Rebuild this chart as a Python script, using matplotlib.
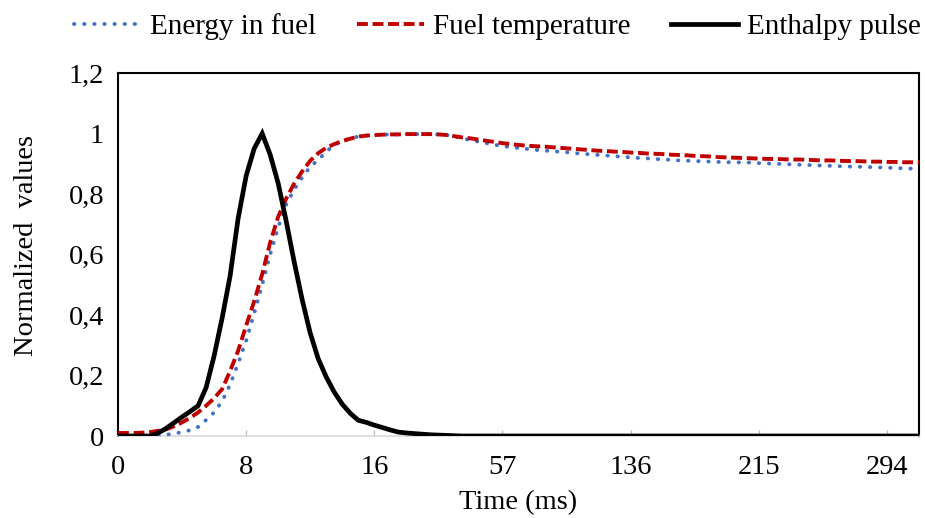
import matplotlib
matplotlib.use("Agg")
import matplotlib.pyplot as plt
import numpy as np

plt.rcParams['font.family'] = ['Liberation Serif', 'DejaVu Serif']

# category axis: one point per category, labels every 16 categories
tick_idx = [0, 16, 32, 48, 64, 80, 96]
tick_labels = ['0', '8', '16', '57', '136', '215', '294']
y_ticks = [0, 0.2, 0.4, 0.6, 0.8, 1.0, 1.2]
y_labels = ['0', '0,2', '0,4', '0,6', '0,8', '1', '1,2']

energy_in_fuel = [
    0, 0, 0, 0, 0, 0.002, 0.004, 0.008, 0.013, 0.019,
    0.03, 0.053, 0.078, 0.115, 0.17, 0.24, 0.315, 0.405, 0.5, 0.6,
    0.69, 0.765, 0.815, 0.855, 0.89, 0.913, 0.94, 0.962, 0.975, 0.984,
    0.99, 0.993, 0.995, 0.996, 0.997, 0.997, 0.998, 0.998, 0.998, 0.998,
    0.997, 0.995, 0.99, 0.984, 0.978, 0.973, 0.968, 0.963, 0.958, 0.955,
    0.952, 0.949, 0.946, 0.944, 0.942, 0.94, 0.938, 0.935, 0.933, 0.931,
    0.929, 0.927, 0.925, 0.923, 0.921, 0.919, 0.918, 0.916, 0.914, 0.913,
    0.911, 0.91, 0.909, 0.908, 0.907, 0.906, 0.905, 0.905, 0.904, 0.904,
    0.902, 0.901, 0.9, 0.899, 0.898, 0.897, 0.896, 0.895, 0.894, 0.893,
    0.892, 0.891, 0.89, 0.89, 0.889, 0.888, 0.887, 0.886, 0.885, 0.884,
    0.883,
]

fuel_temperature = [
    0.01, 0.01, 0.01, 0.011, 0.013, 0.017, 0.022, 0.032, 0.045, 0.06,
    0.078, 0.1, 0.125, 0.155, 0.215, 0.282, 0.365, 0.445, 0.535, 0.64,
    0.725, 0.785, 0.835, 0.875, 0.91, 0.935, 0.953, 0.965, 0.975, 0.983,
    0.99, 0.993, 0.995, 0.996, 0.997, 0.997, 0.998, 0.998, 0.998, 0.998,
    0.997, 0.995, 0.991, 0.987, 0.984, 0.98, 0.976, 0.972, 0.968, 0.965,
    0.962, 0.96, 0.958, 0.957, 0.955, 0.953, 0.951, 0.949, 0.947, 0.945,
    0.943, 0.942, 0.94, 0.939, 0.937, 0.936, 0.934, 0.933, 0.932, 0.93,
    0.929, 0.928, 0.926, 0.925, 0.924, 0.922, 0.921, 0.92, 0.919, 0.918,
    0.917, 0.916, 0.916, 0.915, 0.914, 0.914, 0.913, 0.912, 0.911, 0.911,
    0.91, 0.909, 0.909, 0.908, 0.907, 0.907, 0.906, 0.906, 0.905, 0.905,
    0.904,
]

enthalpy_pulse = [
    0, 0, 0, 0, 0, 0.01, 0.025, 0.044, 0.063, 0.081,
    0.1, 0.16, 0.265, 0.39, 0.53, 0.72, 0.86, 0.95, 1.0, 0.93,
    0.835, 0.71, 0.575, 0.45, 0.34, 0.255, 0.195, 0.145, 0.105, 0.075,
    0.052, 0.045, 0.036, 0.028, 0.02, 0.013, 0.01, 0.008, 0.006, 0.004,
    0.003, 0.002, 0.001, 0, 0, 0, 0, 0, 0, 0,
    0, 0, 0, 0, 0, 0, 0, 0, 0, 0,
    0, 0, 0, 0, 0, 0, 0, 0, 0, 0,
    0, 0, 0, 0, 0, 0, 0, 0, 0, 0,
    0, 0, 0, 0, 0, 0, 0, 0, 0, 0,
    0, 0, 0, 0, 0, 0, 0, 0, 0, 0,
    0,
]

x = np.arange(len(energy_in_fuel))

fig = plt.figure(figsize=(9.25, 5.18), dpi=100)
ax = fig.add_axes([118 / 925, 82 / 518, 801 / 925, 363 / 518])

ax.plot(x, energy_in_fuel, color='#4472C4', lw=2.8, dashes=(0.1, 2.5),
        dash_capstyle='round', label='Energy in fuel', zorder=3)
ax.plot(x, fuel_temperature, color='#C00000', lw=2.8, dashes=(2.8, 1.2),
        label='Fuel temperature', zorder=4)
ax.plot(x, enthalpy_pulse, color='black', lw=3.4, solid_joinstyle='miter',
        label='Enthalpy pulse', zorder=5)

ax.set_xlim(0, len(x) - 1)
ax.set_ylim(0, 1.2)
ax.set_xticks(tick_idx)
ax.set_xticklabels(tick_labels)
ax.set_yticks(y_ticks)
ax.set_yticklabels(y_labels)
ax.tick_params(axis='x', direction='in', length=4, width=1, color='#BFBFBF',
               labelsize=20.5, pad=14)
ax.tick_params(axis='y', length=0, labelsize=20.5, pad=10)

for side in ['left', 'top', 'right']:
    ax.spines[side].set_color('black')
    ax.spines[side].set_linewidth(1.5)
ax.spines['bottom'].set_color('#D9D9D9')
ax.spines['bottom'].set_linewidth(1.2)

ax.set_xlabel('Time (ms)', fontsize=20.5, labelpad=7)
ax.set_ylabel('Normalized  values', fontsize=20.5)
ax.yaxis.set_label_coords(-0.099, 0.525)

fig.legend(loc='center', bbox_to_anchor=(0.538, 0.948), ncol=3, frameon=False,
           fontsize=21, handlelength=2.3, handletextpad=0.3, columnspacing=1.4)

fig.savefig('out.png', dpi=100)
